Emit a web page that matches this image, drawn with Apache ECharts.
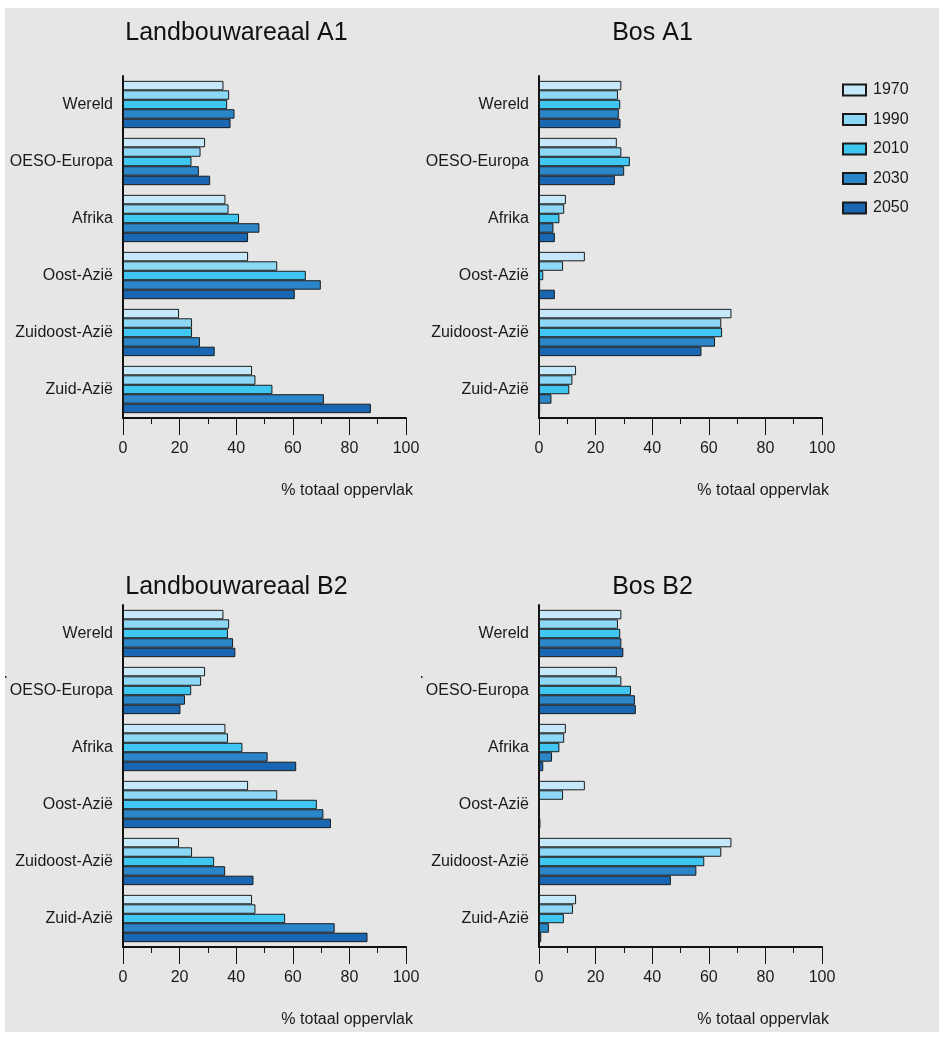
<!DOCTYPE html>
<html style="height: 100%" lang="nl">
<head>
    <meta charset="utf-8">
    <script type="text/javascript" src="https://cdn.jsdelivr.net/npm/echarts@6/dist/echarts.min.js"></script>
    <title>Landbouwareaal en bos</title>
</head>
<body style="height: 100%; margin: 0">
<div id="container" style="width: 939px; height: 1040px"></div>
</body>
<script type="text/javascript">
    // regio's en jaren
    const regions = ['Wereld', 'OESO-Europa', 'Afrika', 'Oost-Azië', 'Zuidoost-Azië', 'Zuid-Azië'];
    const years = ['1970', '1990', '2010', '2030', '2050'];
    const xTicks = [0, 20, 40, 60, 80, 100];

    // % totaal oppervlak, een rij per jaar
    const landbouwA1 = [
        [35.5, 29.0, 36.2, 44.2, 19.8, 45.6],
        [37.5, 27.4, 37.3, 54.5, 24.4, 46.8],
        [36.8, 24.2, 41.0, 64.6, 24.4, 52.8],
        [39.4, 26.8, 48.2, 69.9, 27.2, 71.0],
        [38.0, 30.8, 44.2, 60.7, 32.4, 87.6]
    ];
    const bosA1 = [
        [29.1, 27.5, 9.5, 16.2, 68.0, 13.1],
        [27.9, 29.1, 8.9, 8.5, 64.4, 11.8],
        [28.7, 32.1, 7.2, 1.5, 64.7, 10.7],
        [28.2, 30.1, 5.1, 0.4, 62.2, 4.4],
        [28.8, 26.8, 5.6, 5.6, 57.4, 0.4]
    ];
    const landbouwB2 = [
        [35.5, 29.0, 36.2, 44.2, 19.8, 45.6],
        [37.5, 27.6, 37.1, 54.5, 24.4, 46.8],
        [37.1, 24.1, 42.2, 68.5, 32.2, 57.3],
        [38.9, 21.9, 51.1, 70.8, 36.1, 74.8],
        [39.7, 20.3, 61.2, 73.5, 46.1, 86.4]
    ];
    const bosB2 = [
        [29.1, 27.5, 9.5, 16.2, 68.0, 13.1],
        [27.9, 29.1, 8.9, 8.5, 64.4, 12.0],
        [28.7, 32.5, 7.2, 0.2, 58.4, 8.8],
        [29.1, 33.9, 4.6, 0.2, 55.6, 3.5],
        [29.8, 34.2, 1.5, 0.5, 46.6, 0.8]
    ];

    const colors = ['#c5e9fa', '#8dd8f6', '#3fc6f1', '#2a86c9', '#1967b2'];
    const font = 'Liberation Sans, Arial, sans-serif';

    const panels = [
        {title: 'Landbouwareaal A1', data: landbouwA1, left: 123, top: 76, titleY: 33},
        {title: 'Bos A1', data: bosA1, left: 539, top: 76, titleY: 33},
        {title: 'Landbouwareaal B2', data: landbouwB2, left: 123, top: 605, titleY: 587},
        {title: 'Bos B2', data: bosB2, left: 539, top: 605, titleY: 587}
    ];

    let dom = document.getElementById('container');
    let myChart = echarts.init(dom, null, {renderer: 'canvas'});

    let grids = [], xAxes = [], yAxes = [], series = [], graphics = [];

    graphics.push({
        type: 'rect', z: -10, silent: true,
        shape: {x: 5, y: 8, width: 934, height: 1024},
        style: {fill: '#e6e6e6'}
    });
    // kleine stipjes links naast de onderste panelen
    graphics.push({type: 'rect', silent: true, shape: {x: 5, y: 676, width: 1.5, height: 2}, style: {fill: '#333'}});
    graphics.push({type: 'rect', silent: true, shape: {x: 421, y: 676, width: 1.5, height: 2}, style: {fill: '#333'}});

    panels.forEach(function (p, i) {
        grids.push({left: p.left, top: p.top, width: 283, height: 342});
        xAxes.push({
            type: 'value', gridIndex: i, min: xTicks[0], max: xTicks[xTicks.length - 1], interval: 20,
            axisLine: {show: true, lineStyle: {color: '#111', width: 2}},
            axisTick: {show: true, length: 17, lineStyle: {color: '#111', width: 1}},
            minorTick: {show: true, splitNumber: 2, length: 6, lineStyle: {color: '#111', width: 1}},
            splitLine: {show: false},
            axisLabel: {color: '#1a1a1a', fontSize: 16, fontFamily: font, margin: 23}
        });
        yAxes.push({
            type: 'category', gridIndex: i, data: regions, inverse: true,
            axisLine: {show: true, lineStyle: {color: '#111', width: 2}},
            axisTick: {show: false},
            axisLabel: {color: '#1a1a1a', fontSize: 16, fontFamily: font, margin: 10}
        });
        years.forEach(function (y, k) {
            series.push({
                type: 'bar', name: y, xAxisIndex: i, yAxisIndex: i,
                data: p.data[k],
                barGap: '0%', barCategoryGap: '17%',
                itemStyle: {color: colors[k], borderColor: '#1a1a1a', borderWidth: 1},
                silent: true
            });
        });
        graphics.push({
            type: 'text', silent: true,
            style: {
                text: p.title, x: p.left + 113.5, y: p.titleY,
                textAlign: 'center', textVerticalAlign: 'middle',
                font: '25px ' + font, fill: '#111'
            }
        });
        graphics.push({
            type: 'text', silent: true,
            style: {
                text: '% totaal oppervlak', x: p.left + 290, y: p.top + 415,
                textAlign: 'right', textVerticalAlign: 'middle',
                font: '16px ' + font, fill: '#1a1a1a'
            }
        });
    });

    let option = {
        backgroundColor: '#ffffff',
        animation: false,
        grid: grids,
        xAxis: xAxes,
        yAxis: yAxes,
        legend: {
            data: years, orient: 'vertical', left: 837, top: 76,
            itemWidth: 23, itemHeight: 11, itemGap: 11.5, icon: 'rect',
            textStyle: {color: '#1a1a1a', fontSize: 16, fontFamily: font, lineHeight: 18, padding: [0, 0, 0, 2]},
            selectedMode: false
        },
        series: series,
        graphic: graphics
    };

    myChart.setOption(option);
</script>
</html>
